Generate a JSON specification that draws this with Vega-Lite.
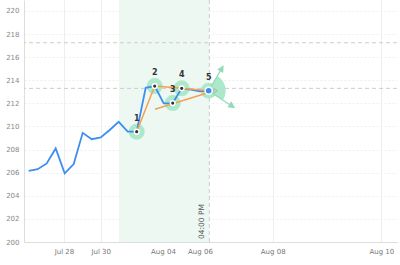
{
  "$schema": "https://vega.github.io/schema/vega-lite/v6.json",
  "width": 373,
  "height": 242,
  "autosize": {"type": "none"},
  "padding": {"left": 24, "top": 0, "right": 3, "bottom": 23},
  "config": {
    "view": {"stroke": null},
    "font": "DejaVu Sans",
    "axis": {"labelOverlap": false, "labelFlush": false, "ticks": false, "labelPadding": 5, "labelFontSize": 7, "domainColor": "#dddddd", "gridColor": "#eeeeee", "title": null},
    "axisX": {"labelColor": "#777777"},
    "axisY": {"labelColor": "#888888", "gridDash": [2, 2]}
  },
  "datasets": {
    "price": [
      {"i": 0, "v": 206.15}, {"i": 1, "v": 206.3}, {"i": 2, "v": 206.8}, {"i": 3, "v": 208.1},
      {"i": 4, "v": 205.95}, {"i": 5, "v": 206.75}, {"i": 6, "v": 209.45}, {"i": 7, "v": 208.9},
      {"i": 8, "v": 209.05}, {"i": 9, "v": 209.7}, {"i": 10, "v": 210.4}, {"i": 11, "v": 209.55},
      {"i": 12, "v": 209.55}, {"i": 13, "v": 213.35}, {"i": 14, "v": 213.5}, {"i": 15, "v": 212.0},
      {"i": 16, "v": 212.03}, {"i": 17, "v": 213.3}, {"i": 18, "v": 213.2}, {"i": 19, "v": 213.05},
      {"i": 20, "v": 213.1}
    ],
    "pts": [
      {"n": "1", "i": 12, "v": 209.55, "last": false},
      {"n": "2", "i": 14, "v": 213.5, "last": false},
      {"n": "3", "i": 16, "v": 212.03, "last": false},
      {"n": "4", "i": 17, "v": 213.3, "last": false},
      {"n": "5", "i": 20, "v": 213.1, "last": true}
    ],
    "orange": [
      {"seg": "a", "o": 1, "i": 12, "v": 209.55}, {"seg": "a", "o": 2, "i": 14, "v": 213.5},
      {"seg": "b", "o": 1, "i": 14, "v": 213.5}, {"seg": "b", "o": 2, "i": 17, "v": 213.3},
      {"seg": "c", "o": 1, "i": 17, "v": 213.3}, {"seg": "c", "o": 2, "i": 20, "v": 213.1},
      {"seg": "d", "o": 1, "i": 14.03, "v": 211.49}, {"seg": "d", "o": 2, "i": 20, "v": 212.95}
    ],
    "levels": [{"v": 217.25}, {"v": 213.3}],
    "shade": [{"i": 10.03, "i2": 20.07}],
    "vline": [{"i": 20.07, "v": 200.26, "label": "04:00 PM"}],
    "yticks": [{"v": 200}, {"v": 202}, {"v": 204}, {"v": 206}, {"v": 208}, {"v": 210}, {"v": 212}, {"v": 214}, {"v": 216}, {"v": 218}, {"v": 220}]
  },
  "layer": [
    {
      "data": {"name": "shade"},
      "mark": {"type": "rect", "color": "#eef8f3"},
      "encoding": {
        "x": {
          "field": "i", "type": "quantitative", "title": null,
          "scale": {"domain": [-0.522, 40.92], "nice": false, "zero": false},
          "axis": {
            "values": [3.92, 8.0, 14.92, 19.03, 27.11, 39.18],
            "labelExpr": "datum.value < 5 ? 'Jul 28' : datum.value < 10 ? 'Jul 30' : datum.value < 17 ? 'Aug 04' : datum.value < 22 ? 'Aug 06' : datum.value < 30 ? 'Aug 08' : 'Aug 10'"
          }
        },
        "x2": {"field": "i2"}
      }
    },
    {
      "data": {"name": "yticks"},
      "mark": {"type": "rule", "color": "#ffffff", "opacity": 0, "strokeWidth": 0},
      "encoding": {
        "y": {
          "field": "v", "type": "quantitative", "title": null,
          "scale": {"domain": [200, 220.95], "nice": false, "zero": false},
          "axis": {
            "values": [200, 202, 204, 206, 208, 210, 212, 214, 216, 218, 220],
            "labelOverlap": false
          }
        }
      }
    },
    {
      "data": {"name": "levels"},
      "mark": {"type": "rule", "color": "#cccccc", "strokeDash": [4, 3], "strokeWidth": 1},
      "encoding": {
        "y": {"field": "v", "type": "quantitative", "title": null, "axis": {"values": [200, 202, 204, 206, 208, 210, 212, 214, 216, 218, 220], "labelOverlap": false}}
      }
    },
    {
      "data": {"name": "vline"},
      "mark": {"type": "rule", "color": "#cccccc", "strokeDash": [4, 3], "strokeWidth": 1},
      "encoding": {
        "x": {"field": "i", "type": "quantitative", "title": null}
      }
    },
    {
      "data": {"name": "pts"},
      "mark": {"type": "point", "shape": "circle", "filled": true, "color": "#ade8cb", "opacity": 1, "size": 256},
      "encoding": {
        "x": {"field": "i", "type": "quantitative", "title": null},
        "y": {"field": "v", "type": "quantitative", "title": null, "axis": {"values": [200, 202, 204, 206, 208, 210, 212, 214, 216, 218, 220], "labelOverlap": false}}
      }
    },
    {
      "data": {"name": "pts"},
      "transform": [{"filter": "datum.last"}],
      "mark": {"type": "point", "shape": "M0,0 L8.6,-14.6 A17,17 0 0 1 14.2,9.4 Z", "filled": true, "color": "#ade8cb", "opacity": 1, "size": 4},
      "encoding": {
        "x": {"field": "i", "type": "quantitative", "title": null},
        "y": {"field": "v", "type": "quantitative", "title": null, "axis": {"values": [200, 202, 204, 206, 208, 210, 212, 214, 216, 218, 220], "labelOverlap": false}}
      }
    },
    {
      "data": {"name": "pts"},
      "transform": [{"filter": "datum.last"}],
      "mark": {"type": "point", "shape": "M0,0 L13,-22 M0,0 L23,15.2 M14.3,-24.3 L13.96,-18.73 L9.64,-21.27 Z M25.3,16.7 L19.7,16.0 L22.5,11.8 Z", "filled": true, "fill": "#8fdcb8", "stroke": "#8fdcb8", "strokeWidth": 1.2, "opacity": 1, "size": 4},
      "encoding": {
        "x": {"field": "i", "type": "quantitative", "title": null},
        "y": {"field": "v", "type": "quantitative", "title": null, "axis": {"values": [200, 202, 204, 206, 208, 210, 212, 214, 216, 218, 220], "labelOverlap": false}}
      }
    },
    {
      "data": {"name": "price"},
      "mark": {"type": "line", "color": "#3d8ef0", "strokeWidth": 1.8},
      "encoding": {
        "x": {"field": "i", "type": "quantitative", "title": null},
        "y": {"field": "v", "type": "quantitative", "title": null, "axis": {"values": [200, 202, 204, 206, 208, 210, 212, 214, 216, 218, 220], "labelOverlap": false}}
      }
    },
    {
      "data": {"name": "orange"},
      "mark": {"type": "line", "color": "#f5a04e", "strokeWidth": 1.5},
      "encoding": {
        "x": {"field": "i", "type": "quantitative", "title": null},
        "y": {"field": "v", "type": "quantitative", "title": null, "axis": {"values": [200, 202, 204, 206, 208, 210, 212, 214, 216, 218, 220], "labelOverlap": false}},
        "detail": {"field": "seg"},
        "order": {"field": "o"}
      }
    },
    {
      "data": {"name": "pts"},
      "transform": [{"filter": "!datum.last"}],
      "mark": {"type": "point", "shape": "circle", "filled": true, "fill": "#333333", "stroke": "#ffffff", "strokeWidth": 1.5, "opacity": 1, "size": 22},
      "encoding": {
        "x": {"field": "i", "type": "quantitative", "title": null},
        "y": {"field": "v", "type": "quantitative", "title": null, "axis": {"values": [200, 202, 204, 206, 208, 210, 212, 214, 216, 218, 220], "labelOverlap": false}}
      }
    },
    {
      "data": {"name": "pts"},
      "transform": [{"filter": "datum.last"}],
      "mark": {"type": "point", "shape": "circle", "filled": true, "fill": "#3a8ee8", "stroke": "#ffffff", "strokeWidth": 1.5, "opacity": 1, "size": 50},
      "encoding": {
        "x": {"field": "i", "type": "quantitative", "title": null},
        "y": {"field": "v", "type": "quantitative", "title": null, "axis": {"values": [200, 202, 204, 206, 208, 210, 212, 214, 216, 218, 220], "labelOverlap": false}}
      }
    },
    {
      "data": {"name": "pts"},
      "transform": [{"filter": "datum.last"}],
      "mark": {"type": "point", "shape": "triangle-right", "filled": false, "stroke": "#999999", "strokeWidth": 0.8, "size": 18, "xOffset": 7},
      "encoding": {
        "x": {"field": "i", "type": "quantitative", "title": null},
        "y": {"field": "v", "type": "quantitative", "title": null, "axis": {"values": [200, 202, 204, 206, 208, 210, 212, 214, 216, 218, 220], "labelOverlap": false}}
      }
    },
    {
      "data": {"name": "pts"},
      "mark": {"type": "text", "fontSize": 8, "fontWeight": "bold", "color": "#333333", "dy": -13, "baseline": "middle", "align": "center"},
      "encoding": {
        "x": {"field": "i", "type": "quantitative", "title": null},
        "y": {"field": "v", "type": "quantitative", "title": null, "axis": {"values": [200, 202, 204, 206, 208, 210, 212, 214, 216, 218, 220], "labelOverlap": false}},
        "text": {"field": "n"}
      }
    },
    {
      "data": {"name": "vline"},
      "mark": {"type": "text", "angle": 270, "align": "left", "baseline": "middle", "dy": -7, "fontSize": 7.5, "color": "#555555"},
      "encoding": {
        "x": {"field": "i", "type": "quantitative", "title": null},
        "y": {"field": "v", "type": "quantitative", "title": null, "axis": {"values": [200, 202, 204, 206, 208, 210, 212, 214, 216, 218, 220], "labelOverlap": false}},
        "text": {"field": "label"}
      }
    }
  ]
}
